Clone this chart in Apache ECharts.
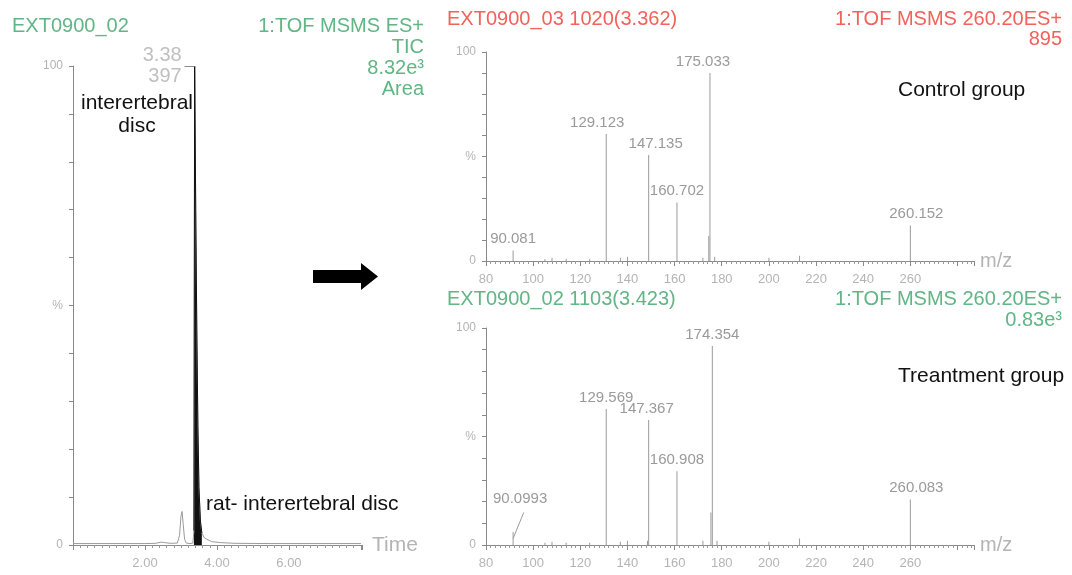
<!DOCTYPE html>
<html>
<head>
<meta charset="utf-8">
<script src="https://cdn.jsdelivr.net/npm/echarts@6/dist/echarts.min.js"></script>
<style>
    html, body {margin: 0; padding: 0; background: #fff;}
    #chart {width: 1072px; height: 575px;}
</style>
</head>
<body>
<div id="chart"></div>
<script>
// chromatogram (TIC), time in min, intensity in %
const chromTime = [0, 0.5, 1.0, 1.5, 2.0, 2.3, 2.45, 2.55, 2.7, 2.9, 2.96, 3.0, 3.03, 3.06, 3.1, 3.15, 3.25, 3.33, 3.36, 3.38, 3.41, 3.44, 3.47, 3.5, 3.54, 3.58, 3.65, 3.72, 3.85, 4.1, 4.5, 5.5, 6.5, 7.5, 8.0];
const chromInt = [0.3, 0.3, 0.3, 0.3, 0.3, 0.35, 0.6, 0.5, 0.35, 0.4, 2, 6, 7, 4.5, 1.2, 0.4, 0.3, 0.4, 3, 100, 70, 45, 25, 12, 5, 2.5, 1.5, 1.2, 0.7, 0.5, 0.35, 0.3, 0.3, 0.3, 0.3];

// control group MS/MS spectrum
const ctrlMz = [91.5, 105, 108, 114, 124, 131, 137, 140, 149, 161, 172, 174.5, 175, 177, 200, 213, 260];
const ctrlInt = [5, 1, 1.5, 1, 1, 60.8, 1.5, 2, 50.7, 28, 1.5, 12, 90, 2, 1.5, 2.5, 17];
const ctrlLabels = ['90.081', '', '', '', '', '129.123', '', '', '147.135', '160.702', '', '', '175.033', '', '', '', '260.152'];

// treatment group MS/MS spectrum
const treatMz = [91.5, 105, 108, 114, 124, 131, 137, 140, 148.5, 149, 161, 172, 175.4, 176, 178, 200, 213, 260];
const treatInt = [6, 1, 1.5, 1, 1, 62.7, 1.5, 2, 2, 57.6, 34, 2, 15, 91.7, 2, 1.5, 3, 21];
const treatLabels = ['90.0993', '', '', '', '', '129.569', '', '', '', '147.367', '160.908', '', '', '174.354', '', '', '', '260.083'];

const GREEN = '#62b585';
const RED = '#f2625a';
const GRAY = '#9a9a9a';
const LIGHT = '#b4b4b4';
const FONT = '"Liberation Sans", Arial, sans-serif';

let chartDom = document.getElementById('chart');
let myChart = echarts.init(chartDom);

function yAxisFor(grid) {
    return {
        gridIndex: grid, type: 'value', min: 0, max: 100, interval: 10,
        axisLine: {show: true, lineStyle: {color: '#8a8a8a'}},
        axisTick: {show: true, length: 4, lineStyle: {color: '#8a8a8a'}},
        splitLine: {show: false},
        axisLabel: {
            margin: 10, color: LIGHT, fontSize: 12, fontFamily: FONT,
            formatter: v => v === 100 ? '100' : v === 0 ? '0' : v === 50 ? '%' : ''
        }
    };
}

function mzAxisFor(grid) {
    return {
        gridIndex: grid, type: 'value', min: 80, max: 287, interval: 20,
        name: 'm/z', nameLocation: 'end', nameGap: 6,
        nameTextStyle: {color: LIGHT, fontSize: 20, fontFamily: FONT, verticalAlign: 'middle'},
        axisLine: {show: true, lineStyle: {color: '#8a8a8a'}},
        axisTick: {show: true, length: 5, lineStyle: {color: '#8a8a8a'}},
        minorTick: {show: true, splitNumber: 10, length: 3, lineStyle: {color: '#9a9a9a'}},
        splitLine: {show: false},
        axisLabel: {
            margin: 12, color: LIGHT, fontSize: 13, fontFamily: FONT,
            formatter: v => (v % 20 === 0 && v <= 260) ? String(v) : ''
        }
    };
}

function spectrumSeries(mz, inten, labels, grid, dx, dy) {
    return {
        type: 'bar', xAxisIndex: grid, yAxisIndex: grid, barWidth: 1,
        itemStyle: {color: GRAY},
        silent: true,
        data: mz.map((m, i) => ({
            value: [m, inten[i]],
            label: {
                show: labels[i] !== '', formatter: labels[i], position: 'top', distance: 4,
                offset: [dx[labels[i]] || 0, dy[labels[i]] || 0],
                color: GRAY, fontSize: 15, fontFamily: FONT
            }
        }))
    };
}

function text(x, y, str, color, size, align, lineHeight) {
    return {
        type: 'text', x: x, y: y, silent: true,
        style: {
            text: str, fill: color, font: size + 'px ' + FONT,
            align: align || 'left', verticalAlign: 'top', lineHeight: lineHeight || size
        }
    };
}

const chromData = chromTime.map((t, i) => [t, chromInt[i]]);
const peakData = chromData.filter(p => p[0] >= 3.34 && p[0] <= 3.6);

let option = {
    animation: false,
    textStyle: {fontFamily: FONT},
    grid: [
        {left: 73, top: 66, width: 289, height: 479},
        {left: 486, top: 52, width: 488, height: 209},
        {left: 486, top: 328, width: 488, height: 217}
    ],
    xAxis: [
        {
            gridIndex: 0, type: 'value', min: 0, max: 8.03, interval: 2,
            name: 'Time', nameLocation: 'end', nameGap: 10,
            nameTextStyle: {color: LIGHT, fontSize: 21, fontFamily: FONT, verticalAlign: 'middle'},
            axisLine: {show: true, lineStyle: {color: '#8a8a8a'}},
            axisTick: {show: true, length: 5, lineStyle: {color: '#8a8a8a'}},
            minorTick: {show: true, splitNumber: 10, length: 3, lineStyle: {color: '#9a9a9a'}},
            splitLine: {show: false},
            axisLabel: {
                margin: 12, color: LIGHT, fontSize: 13, fontFamily: FONT,
                formatter: v => (v > 0 && v < 7.5) ? v.toFixed(2) : ''
            }
        },
        mzAxisFor(1),
        mzAxisFor(2)
    ],
    yAxis: [yAxisFor(0), yAxisFor(1), yAxisFor(2)],
    series: [
        {
            type: 'line', xAxisIndex: 0, yAxisIndex: 0, data: chromData,
            symbol: 'none', silent: true,
            lineStyle: {color: GRAY, width: 1},
            markPoint: {
                symbol: 'circle', symbolSize: 2,
                itemStyle: {color: 'rgba(0,0,0,0)'},
                data: [{coord: [3.38, 100]}],
                label: {
                    show: true, position: 'left', distance: 12, formatter: '3.38\n397',
                    color: '#c0c0c0', fontSize: 20, lineHeight: 21, align: 'right', fontFamily: FONT
                }
            },
            markLine: {
                // short leader from the peak label to the apex
                symbol: 'none', silent: true, label: {show: false},
                lineStyle: {color: '#8a8a8a', type: 'solid', width: 1},
                data: [[{coord: [3.1, 100]}, {coord: [3.38, 100]}]]
            }
        },
        {
            type: 'line', xAxisIndex: 0, yAxisIndex: 0, data: peakData,
            symbol: 'none', silent: true,
            lineStyle: {color: '#111', width: 1},
            areaStyle: {color: '#111', opacity: 1}
        },
        spectrumSeries(ctrlMz, ctrlInt, ctrlLabels, 1,
            {'129.123': -9, '147.135': 7, '175.033': -7, '260.152': 6}, {}),
        spectrumSeries(treatMz, treatInt, treatLabels, 2,
            {'90.0993': 7, '147.367': -2, '260.083': 6}, {'90.0993': -22}),
        {
            // leader line for the 90.0993 label
            type: 'line', xAxisIndex: 2, yAxisIndex: 2, silent: true, symbol: 'none',
            data: [[91.5, 3], [96, 15]],
            lineStyle: {color: GRAY, width: 1}
        }
    ],
    graphic: [
        text(12, 16, 'EXT0900_02', GREEN, 20),
        text(424, 16, '1:TOF MSMS ES+\nTIC\n8.32e³\nArea', GREEN, 20, 'right', 21),
        text(447, 9, 'EXT0900_03 1020(3.362)', RED, 20),
        text(1062, 9, '1:TOF MSMS 260.20ES+\n895', RED, 20, 'right', 20),
        text(447, 289, 'EXT0900_02 1103(3.423)', GREEN, 20),
        text(1062, 289, '1:TOF MSMS 260.20ES+\n0.83e³', GREEN, 20, 'right', 21),
        text(898, 80, 'Control group', '#111', 21),
        text(898, 366, 'Treantment group', '#111', 21),
        text(137, 92, 'interertebral\ndisc', '#111', 21, 'center', 23),
        text(206, 494, 'rat- interertebral disc', '#111', 21),
        {
            type: 'polygon', silent: true,
            shape: {points: [[313, 270], [361, 270], [361, 263], [378, 276.5], [361, 290], [361, 283], [313, 283]]},
            style: {fill: '#000'}
        }
    ]
};

option && myChart.setOption(option);
</script>
</body>
</html>
